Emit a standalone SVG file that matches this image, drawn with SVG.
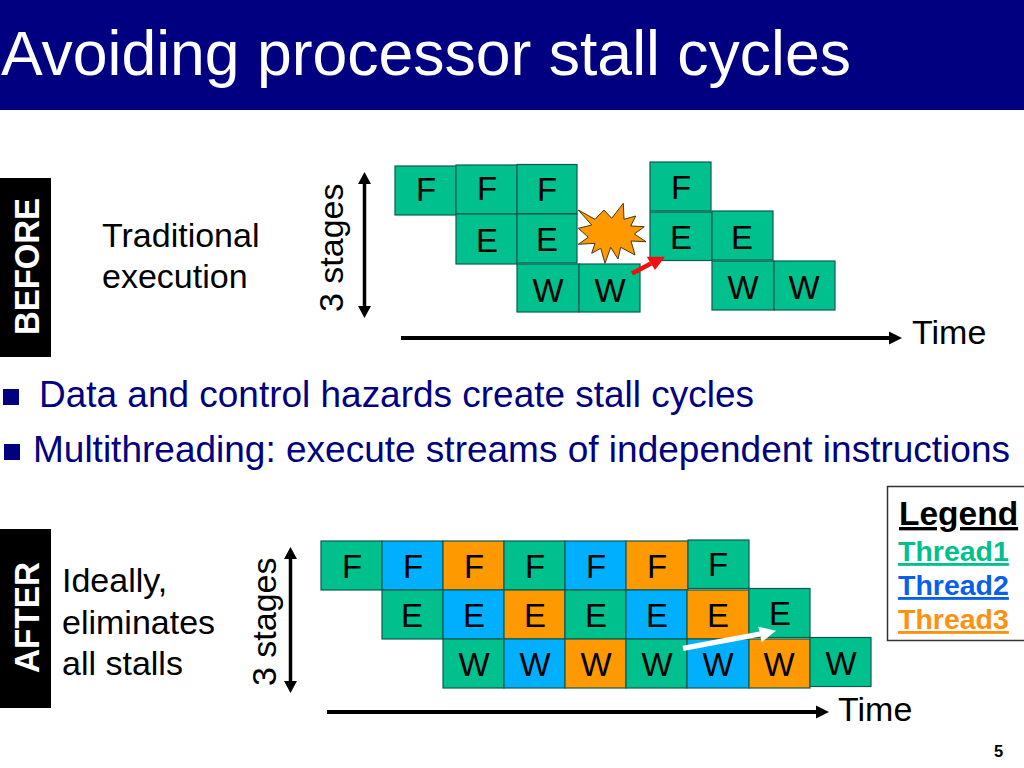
<svg xmlns="http://www.w3.org/2000/svg" width="1024" height="768" viewBox="0 0 1024 768">
<style>
text{font-family:"Liberation Sans",Arial,sans-serif;fill:#000}
.n{fill:#000080}
.g{fill:#00c08d}.b{fill:#00b0ff}.o{fill:#ff9900}
rect.c{stroke:#0a5a50;stroke-width:1.2}
.l{font-size:33px;text-anchor:middle}
.m{font-size:34px}
.h{font-size:36px;fill:#000080}
.s{font-size:34px}
.t{font-size:35px;font-weight:bold;fill:#fff}
.k{font-size:28.500px;font-weight:bold;text-decoration:underline}
</style>
<rect width="1024" height="768" fill="#fff"/>
<g id="title"><rect width="1024" height="110" fill="#000080"/><text x="1" y="75" font-size="62.500" style="fill:#fff">Avoiding processor stall cycles</text></g>
<g id="before-label"><rect x="0" y="178" width="51" height="179" fill="#000"/><text class="t" transform="translate(39,335) rotate(-90)" textLength="137" lengthAdjust="spacingAndGlyphs">BEFORE</text></g>
<g id="after-label"><rect x="0" y="529" width="51" height="179" fill="#000"/><text class="t" transform="translate(39,673) rotate(-90)" textLength="111" lengthAdjust="spacingAndGlyphs">AFTER</text></g>
<g id="before-desc"><text class="m" x="102" y="247">Traditional</text><text class="m" x="102" y="288">execution</text></g>
<g id="after-desc"><text class="m" x="62" y="592">Ideally,</text><text class="m" x="62" y="634">eliminates</text><text class="m" x="62" y="675">all stalls</text></g>
<g id="bullets">
<rect class="n" x="3" y="389" width="16" height="16"/><text class="h" x="39" y="407" textLength="715" lengthAdjust="spacingAndGlyphs">Data and control hazards create stall cycles</text>
<rect class="n" x="4" y="444" width="16" height="16"/><text class="h" x="33" y="462" textLength="977" lengthAdjust="spacingAndGlyphs">Multithreading: execute streams of independent instructions</text>
</g>
<g id="before-stages"><text class="s" transform="translate(343,312) rotate(-90)">3 stages</text></g>
<g id="after-stages"><text class="s" transform="translate(276,686) rotate(-90)">3 stages</text></g>
<g id="before-grid">
<rect class="c g" x="395" y="166" width="61" height="49"/><text class="l" x="426" y="201">F</text>
<rect class="c g" x="456" y="165" width="61" height="49"/><text class="l" x="487" y="200">F</text>
<rect class="c g" x="517" y="164.500" width="60" height="49"/><text class="l" x="547" y="201">F</text>
<rect class="c g" x="456" y="214" width="61" height="50"/><text class="l" x="487" y="252">E</text>
<rect class="c g" x="517" y="214" width="60" height="49"/><text class="l" x="547" y="251">E</text>
<rect class="c g" x="517" y="264" width="62" height="48"/><text class="l" x="548" y="302">W</text>
<rect class="c g" x="579" y="264" width="61" height="48"/><text class="l" x="610" y="302">W</text>
<rect class="c g" x="650" y="162" width="61" height="49"/><text class="l" x="681" y="199">F</text>
<rect class="c g" x="650" y="212" width="62" height="48.500"/><text class="l" x="681" y="249">E</text>
<rect class="c g" x="712" y="211" width="61" height="49"/><text class="l" x="742" y="249">E</text>
<rect class="c g" x="712" y="261" width="62" height="49"/><text class="l" x="743" y="299">W</text>
<rect class="c g" x="774" y="261" width="61" height="49"/><text class="l" x="804" y="299">W</text>
</g>
<g id="hazard"><polygon points="578.300,210 595,219.300 604,210 611.700,218.300 623.300,203.300 624,219.300 635.700,216 630.700,226 644.300,226.700 634.300,234 646,241.700 631,241 635,255 620.700,247.300 618,259 610.700,247.300 605,263.300 600.700,248.300 591.700,253.300 595,243.300 578.300,244.300 588.300,237.300 578.300,228.300 591.700,225" fill="#ff9900" stroke="#4a3510" stroke-width="1"/></g>
<g id="after-grid">
<rect class="c g" x="321" y="541" width="61" height="49"/><text class="l" x="352" y="578">F</text>
<rect class="c b" x="382" y="541" width="61" height="49"/><text class="l" x="413" y="578">F</text>
<rect class="c o" x="443" y="541" width="61" height="49"/><text class="l" x="474" y="578">F</text>
<rect class="c g" x="504" y="541" width="61" height="49"/><text class="l" x="535" y="578">F</text>
<rect class="c b" x="565" y="541" width="61" height="49"/><text class="l" x="596" y="578">F</text>
<rect class="c o" x="626" y="541" width="62" height="49"/><text class="l" x="657" y="578">F</text>
<rect class="c g" x="688" y="540" width="61" height="48.500"/><text class="l" x="718" y="576">F</text>
<rect class="c g" x="382" y="590" width="61" height="49"/><text class="l" x="412" y="627">E</text>
<rect class="c b" x="443" y="590" width="61" height="49"/><text class="l" x="474" y="627">E</text>
<rect class="c o" x="504" y="590" width="61" height="49"/><text class="l" x="535" y="627">E</text>
<rect class="c g" x="565" y="590" width="61" height="49"/><text class="l" x="596" y="627">E</text>
<rect class="c b" x="626" y="590" width="61" height="49"/><text class="l" x="657" y="627">E</text>
<rect class="c o" x="687" y="590" width="62" height="49"/><text class="l" x="718" y="627">E</text>
<rect class="c g" x="749" y="588.500" width="61" height="49"/><text class="l" x="780" y="625">E</text>
<rect class="c g" x="443" y="639" width="61" height="49"/><text class="l" x="474" y="676">W</text>
<rect class="c b" x="504" y="639" width="61" height="49"/><text class="l" x="535" y="676">W</text>
<rect class="c o" x="565" y="639" width="61" height="49"/><text class="l" x="596" y="676">W</text>
<rect class="c g" x="626" y="639" width="61" height="49"/><text class="l" x="657" y="676">W</text>
<rect class="c b" x="687" y="639" width="62" height="49"/><text class="l" x="718" y="676">W</text>
<rect class="c o" x="749" y="639" width="61" height="49"/><text class="l" x="779" y="676">W</text>
<rect class="c g" x="810" y="637.500" width="61" height="49"/><text class="l" x="841" y="675">W</text>
</g>
<g id="connectors">
<path d="M364.500 182V308" stroke="#000" stroke-width="3.500" fill="none"/><path d="M364.500 172l-6.500 12h13zM364.500 318l-6.500-12h13z"/>
<path d="M290.500 557V683" stroke="#000" stroke-width="3.500" fill="none"/><path d="M290.500 547l-6.500 12h13zM290.500 693l-6.500-12h13z"/>
<path d="M401 338H892" stroke="#000" stroke-width="4" fill="none"/><path d="M902 338l-13-6.500v13z"/>
<path d="M327 712H819" stroke="#000" stroke-width="4" fill="none"/><path d="M829 712l-13-6.500v13z"/>
<path d="M632 273.500L651 263.500" stroke="#f01010" stroke-width="4.800" fill="none"/><path d="M665 256.700L646.700 256.700 655 270z" fill="#f01010"/>
<path d="M683 648.300L760 634" stroke="#fff" stroke-width="5.300" fill="none"/><path d="M776 630.700L758.300 626.700 761.700 642.300z" fill="#fff"/>
</g>
<g id="time-labels"><text class="s" x="912" y="344">Time</text><text class="s" x="838" y="721">Time</text></g>
<g id="legend"><rect x="887.500" y="486.500" width="140" height="154" fill="#fff" stroke="#333" stroke-width="1.500"/>
<text x="899" y="525" font-size="33.500" font-weight="bold" text-decoration="underline">Legend</text>
<text class="k" x="898" y="561" style="fill:#00c08d">Thread1</text>
<text class="k" x="898" y="595" style="fill:#0a5fe8">Thread2</text>
<text class="k" x="898" y="629" style="fill:#ff9010">Thread3</text></g>
<g id="page"><text x="994" y="757" font-size="16.500" font-weight="bold">5</text></g>
</svg>
